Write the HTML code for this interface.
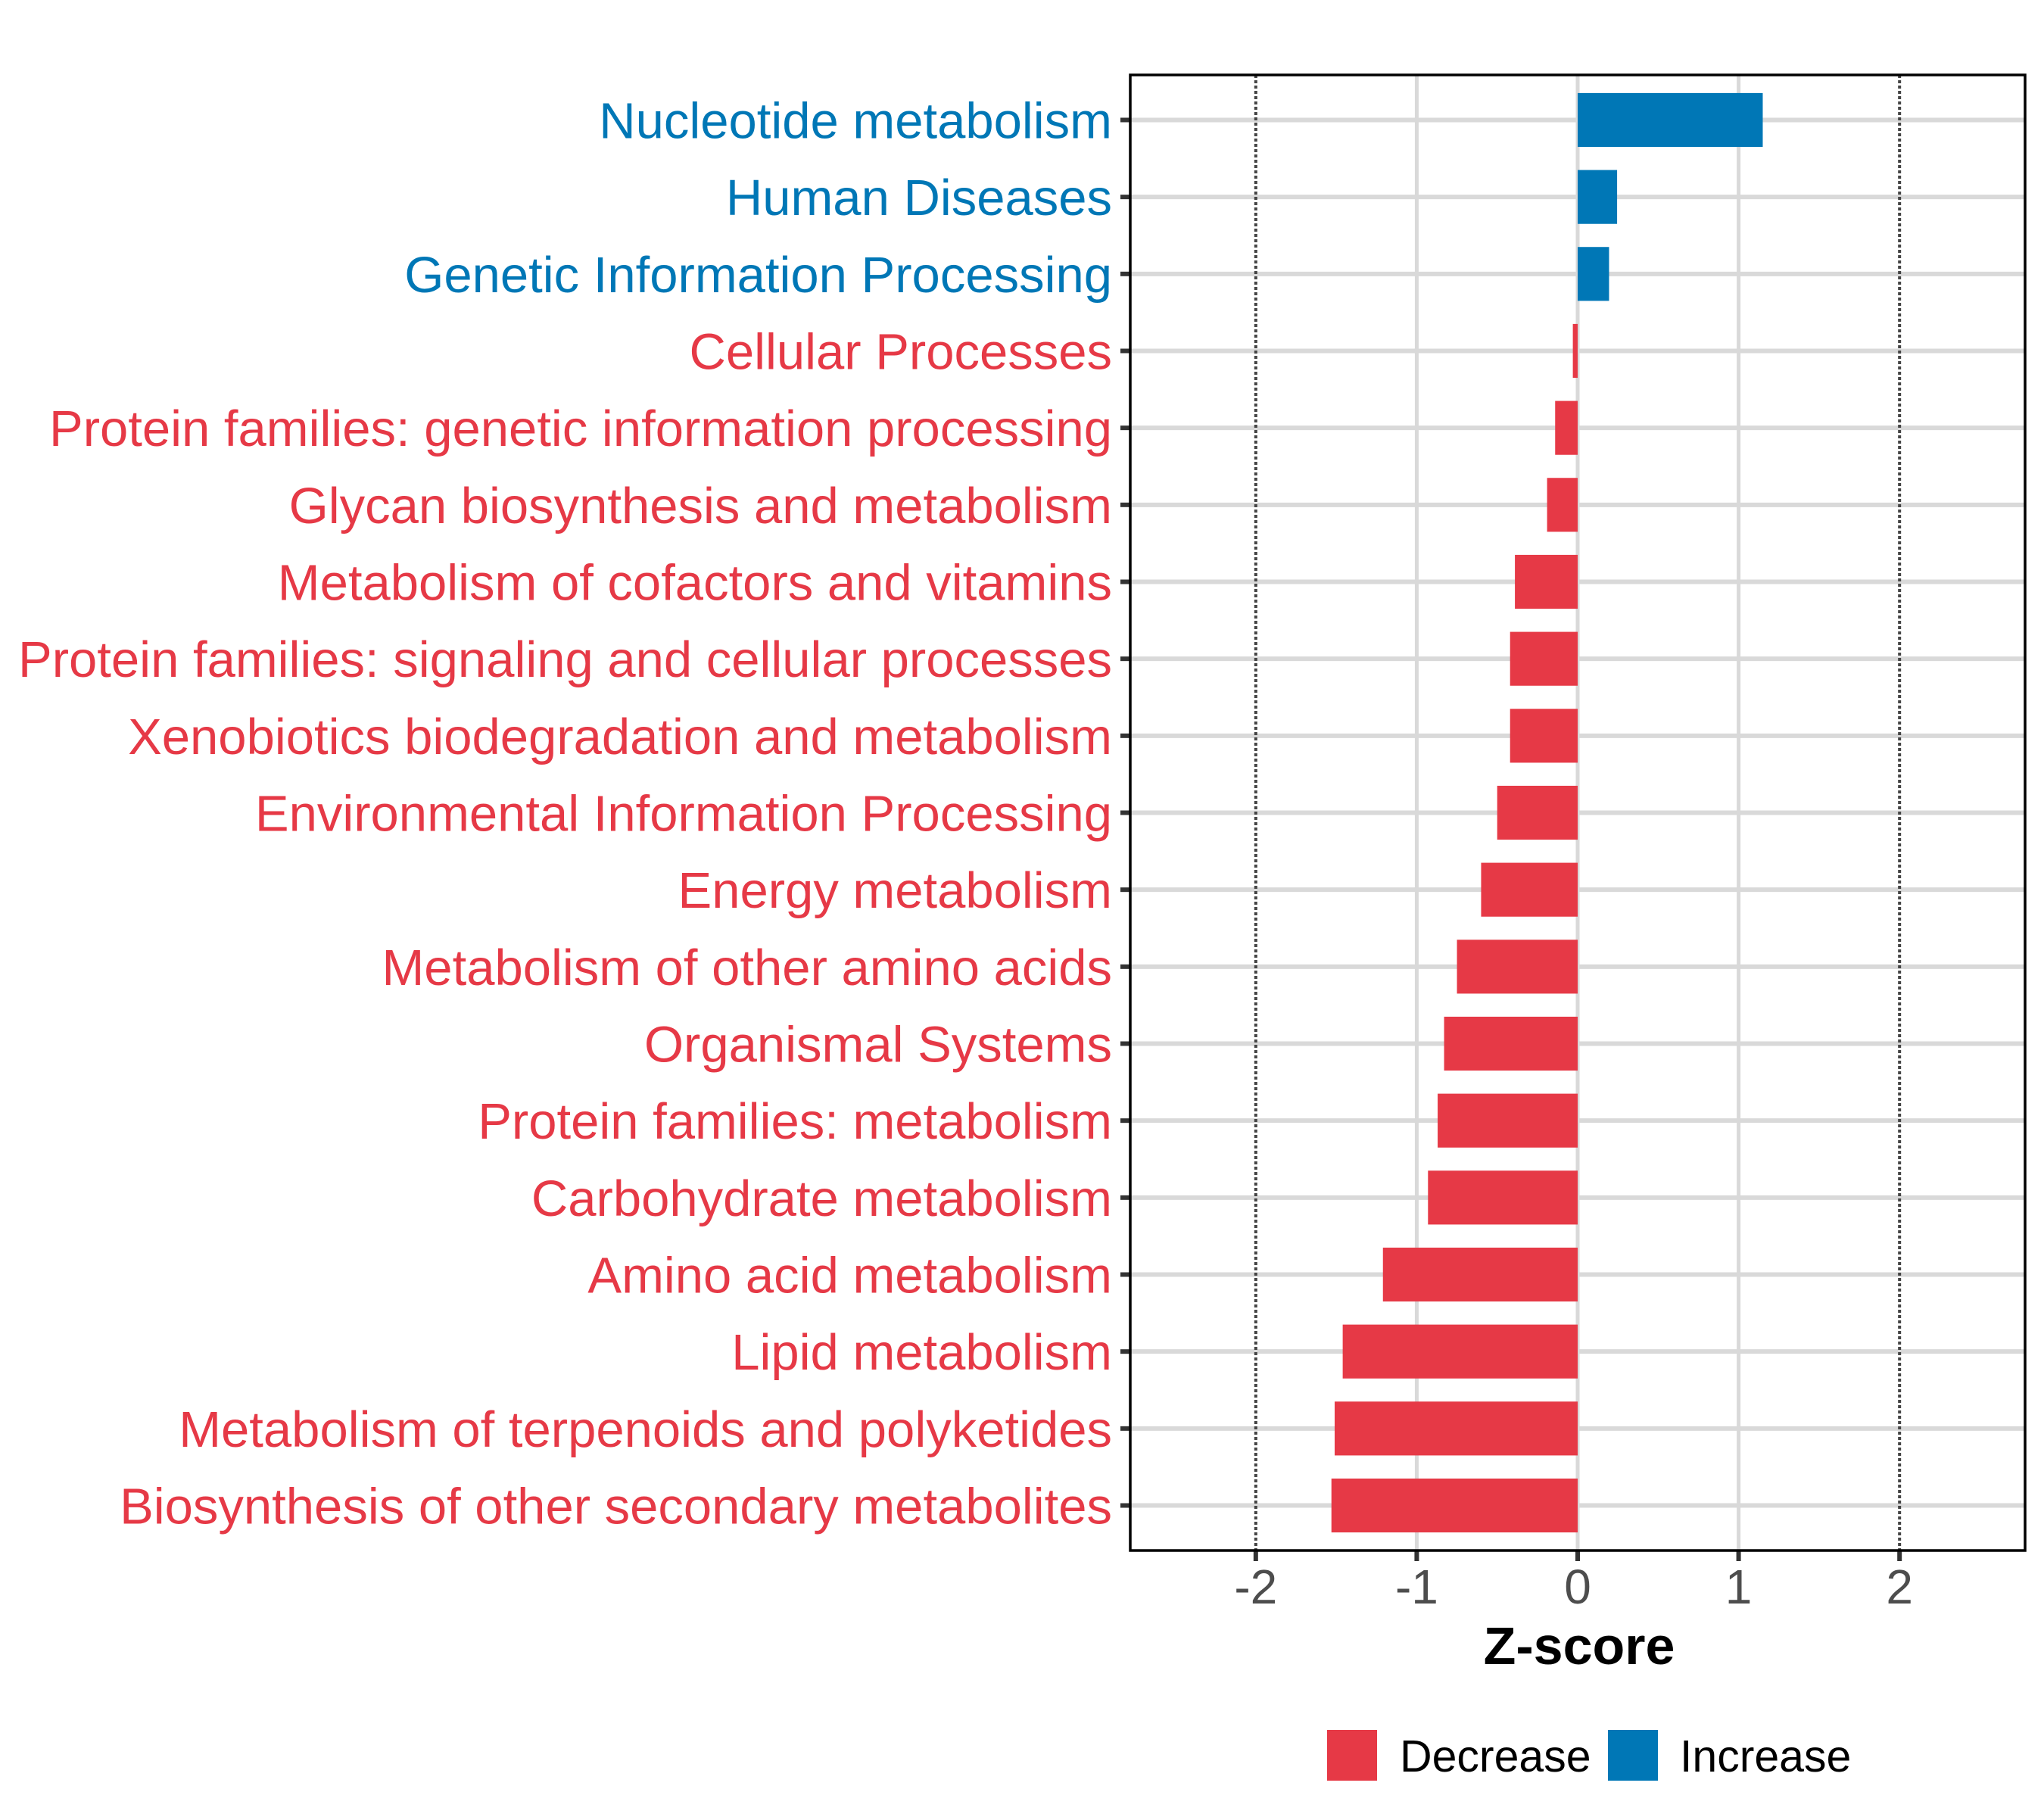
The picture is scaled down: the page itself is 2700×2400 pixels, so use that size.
<!DOCTYPE html>
<html><head><meta charset="utf-8"><style>
html,body{margin:0;padding:0;background:#fff;}
svg{display:block;font-family:"Liberation Sans",Arial,sans-serif;}
</style></head><body>
<svg id="chart" width="2700" height="2400" viewBox="0 0 2700 2400" xmlns="http://www.w3.org/2000/svg">
<rect x="0" y="0" width="2700" height="2400" fill="#fff"/>
<g id="grid"></g>
<g id="bars"></g>
<g id="ylabels"></g>
<g id="xaxis"></g>
<rect x="1493" y="99" width="1182" height="1949" fill="none" stroke="#000" stroke-width="3.5"/>
<text x="2086" y="2198" font-size="70" font-weight="bold" text-anchor="middle" fill="#000">Z-score</text>
<g>
<rect x="1753" y="2285" width="66" height="67" fill="#E63946"/>
<text x="1849" y="2340" font-size="59" fill="#000">Decrease</text>
<rect x="2124" y="2285" width="66" height="67" fill="#0077B6"/>
<text x="2219" y="2340" font-size="59" fill="#000">Increase</text>
</g>
</svg>
<script>
var categories = ["Nucleotide metabolism","Human Diseases","Genetic Information Processing","Cellular Processes","Protein families: genetic information processing","Glycan biosynthesis and metabolism","Metabolism of cofactors and vitamins","Protein families: signaling and cellular processes","Xenobiotics biodegradation and metabolism","Environmental Information Processing","Energy metabolism","Metabolism of other amino acids","Organismal Systems","Protein families: metabolism","Carbohydrate metabolism","Amino acid metabolism","Lipid metabolism","Metabolism of terpenoids and polyketides","Biosynthesis of other secondary metabolites"];
var zscores = [1.15,0.245,0.195,-0.03,-0.14,-0.19,-0.39,-0.42,-0.42,-0.50,-0.60,-0.75,-0.83,-0.87,-0.93,-1.21,-1.46,-1.51,-1.53];
var xTicks = [-2,-1,0,1,2];
var xTickLabels = ["-2","-1","0","1","2"];
var dashedRefs = [-2,2];

var NS="http://www.w3.org/2000/svg";
var L=1493,R=2675,T=99,B=2048,XMIN=-2.78,XMAX=2.78;
var RED="#E63946",BLUE="#0077B6";
function xs(v){return L+(v-XMIN)/(XMAX-XMIN)*(R-L);}
var step=(B-T)/(categories.length+0.17);
function ys(i){return T+step*0.585+i*step;}
var grid=document.getElementById('grid');
var bars=document.getElementById('bars');
var yl=document.getElementById('ylabels');
var xa=document.getElementById('xaxis');
var i, el, v;
for(i=0;i<categories.length;i++){
  el=document.createElementNS(NS,'line');
  el.setAttribute('x1',L);el.setAttribute('x2',R);
  el.setAttribute('y1',ys(i));el.setAttribute('y2',ys(i));
  el.setAttribute('stroke','#d9d9d9');el.setAttribute('stroke-width','6');
  
  
  grid.appendChild(el);
}
for(i=0;i<xTicks.length;i++){
  v=xTicks[i];
  el=document.createElementNS(NS,'line');
  el.setAttribute('x1',xs(v));el.setAttribute('x2',xs(v));
  el.setAttribute('y1',T);el.setAttribute('y2',B);
  if(dashedRefs.indexOf(v)>=0){
    el.setAttribute('stroke','#444');el.setAttribute('stroke-width','4');el.setAttribute('stroke-dasharray','4 3');
    
  } else {
    el.setAttribute('stroke','#d9d9d9');el.setAttribute('stroke-width','5');
    
  }
  
  grid.appendChild(el);
}
var bh=step*0.7;
for(i=0;i<zscores.length;i++){
  v=zscores[i];
  var x0=xs(Math.min(0,v)), x1=xs(Math.max(0,v));
  el=document.createElementNS(NS,'rect');
  el.setAttribute('x',x0);el.setAttribute('y',ys(i)-bh/2);
  el.setAttribute('width',Math.max(x1-x0,0.5));el.setAttribute('height',bh);
  el.setAttribute('fill',v>=0?BLUE:RED);
  
  
  bars.appendChild(el);
  el=document.createElementNS(NS,'text');
  el.setAttribute('x','1469');el.setAttribute('y',ys(i)+24);
  el.setAttribute('font-size','67');el.setAttribute('text-anchor','end');
  el.setAttribute('fill',v>=0?BLUE:RED);
  el.textContent=categories[i];
  
  
  yl.appendChild(el);
  el=document.createElementNS(NS,'line');
  el.setAttribute('x1','1480');el.setAttribute('x2',L);
  el.setAttribute('y1',ys(i));el.setAttribute('y2',ys(i));
  el.setAttribute('stroke','#333');el.setAttribute('stroke-width','6');
  
  
  yl.appendChild(el);
}
for(i=0;i<xTicks.length;i++){
  v=xTicks[i];
  el=document.createElementNS(NS,'line');
  el.setAttribute('x1',xs(v));el.setAttribute('x2',xs(v));
  el.setAttribute('y1',B);el.setAttribute('y2',B+14);
  el.setAttribute('stroke','#333');el.setAttribute('stroke-width','6');
  
  
  xa.appendChild(el);
  el=document.createElementNS(NS,'text');
  el.setAttribute('x',xs(v));el.setAttribute('y','2118');
  el.setAttribute('font-size','64');el.setAttribute('text-anchor','middle');
  el.setAttribute('fill','#4d4d4d');
  el.textContent=xTickLabels[i];
  
  
  xa.appendChild(el);
}
</script>
</body></html>
